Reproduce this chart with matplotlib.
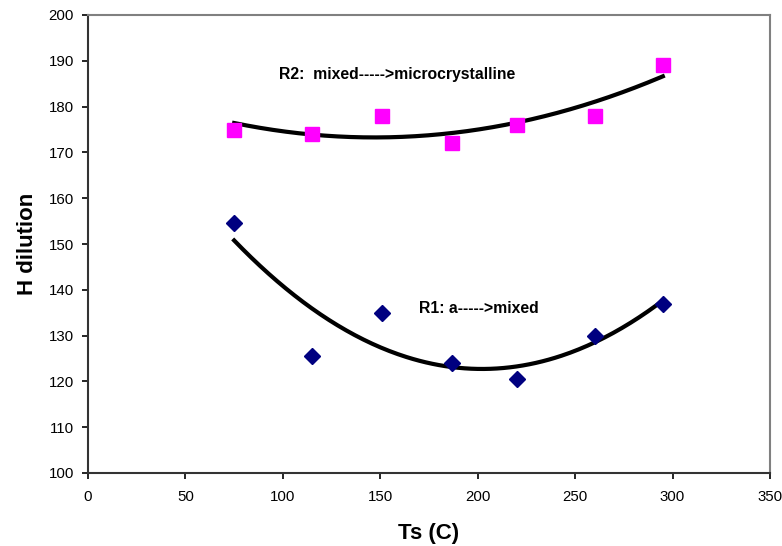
import numpy as np
import matplotlib.pyplot as plt

plt.rcParams['font.family'] = ['Liberation Sans', 'DejaVu Sans']

ts = [75, 115, 151, 187, 220, 260, 295]
r1 = [154.5, 125.5, 135, 124, 120.5, 130, 137]
r2 = [175, 174, 178, 172, 176, 178, 189]

fig = plt.figure(figsize=(7.82, 5.46), dpi=100)
ax = fig.add_axes([88/782, 1-473/546, 682/782, 458/546])

# polynomial (order 2) trendlines like Excel
xx = np.linspace(min(ts), max(ts), 200)
p1 = np.polyfit(ts, r1, 2)
p2 = np.polyfit(ts, r2, 2)
ax.plot(xx, np.polyval(p2, xx), color='black', lw=3, zorder=2)
ax.plot(xx, np.polyval(p1, xx), color='black', lw=3, zorder=2)

ax.plot(ts, r2, 's', color='#FF00FF', markersize=10.5, zorder=3)
ax.plot(ts, r1, 'D', color='#000080', markersize=8.5, zorder=3)

ax.text(98, 187.1, 'R2:  mixed----->microcrystalline', fontsize=11.3,
        fontweight='bold', va='center')
ax.text(170, 136.0, 'R1: a----->mixed', fontsize=11.3,
        fontweight='bold', va='center')

ax.set_xlim(0, 350)
ax.set_ylim(100, 200)
ax.set_xticks(range(0, 351, 50))
ax.set_yticks(range(100, 201, 10))
ax.tick_params(direction='out', length=4, labelsize=10.8, width=1.2)
ax.tick_params(axis='x', pad=8)
ax.tick_params(axis='y', pad=6)
for s in ['left', 'bottom']:
    ax.spines[s].set_color('#333333')
    ax.spines[s].set_linewidth(1.5)
for s in ['top', 'right']:
    ax.spines[s].set_color('#808080')
    ax.spines[s].set_linewidth(1.5)

ax.set_xlabel('Ts (C)', fontsize=16, fontweight='bold', labelpad=14)
ax.set_ylabel('H dilution', fontsize=16, fontweight='bold', labelpad=8)

fig.savefig('out.png', dpi=100)
